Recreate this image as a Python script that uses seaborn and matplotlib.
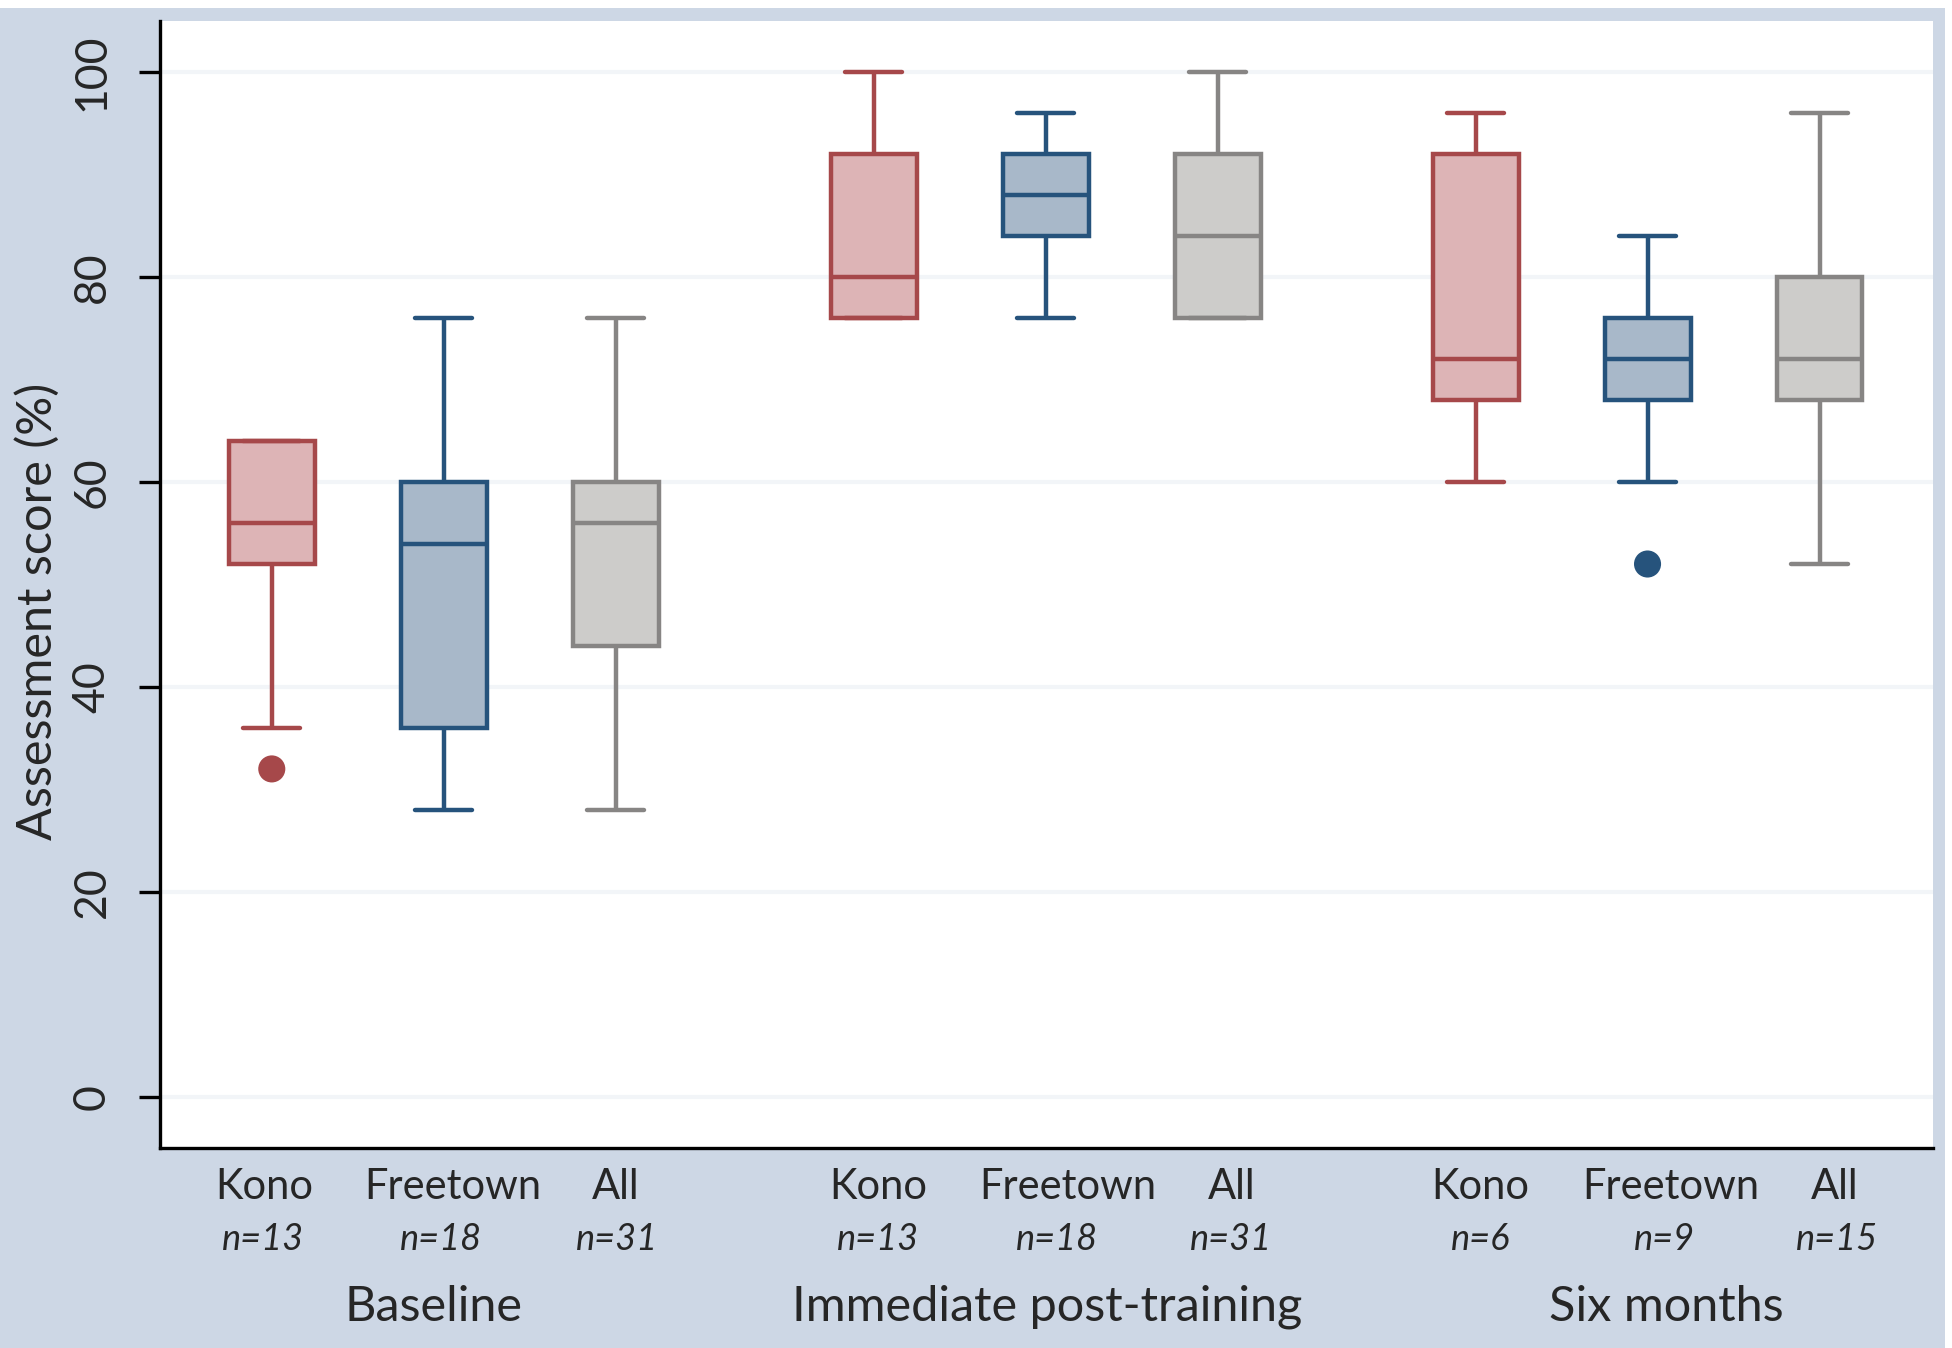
import matplotlib.pyplot as plt
import pandas as pd
import seaborn as sns
from matplotlib.patches import Rectangle

# Data
timepoints = ['Baseline', 'Immediate post-training', 'Six months']
sites = ['Kono', 'Freetown', 'All']
n_obs = [[13, 18, 31], [13, 18, 31], [6, 9, 15]]

# Five-number summaries (rows = timepoint, cols = site)
whisk_lo = [[36, 28, 28], [76, 76, 76], [60, 60, 52]]
q1 = [[52, 36, 44], [76, 84, 76], [68, 68, 68]]
median = [[56, 54, 56], [80, 88, 84], [72, 72, 72]]
q3 = [[64, 60, 60], [92, 92, 92], [92, 76, 80]]
whisk_hi = [[64, 76, 76], [100, 96, 100], [96, 84, 96]]

# Points outside the whiskers
outlier_time = ['Baseline', 'Six months']
outlier_site = ['Kono', 'Freetown']
outlier_score = [32, 52]

# Styling
fills = {'Kono': '#DDB4B6', 'Freetown': '#A8B8C9', 'All': '#CDCCCA'}
edges = {'Kono': '#A6484A', 'Freetown': '#26537C', 'All': '#878584'}
bg = '#CDD7E5'
group_step = 3.5
box_w = 0.5
# small horizontal nudges of the labels (data units), like the original layout
site_lab_shift = [[-0.045, 0.05, 0.0], [0.025, 0.13, 0.08], [0.03, 0.135, 0.09]]
n_lab_shift = [[-0.05, -0.015, 0.01], [0.025, 0.066, 0.08], [0.03, 0.1, 0.1]]
group_lab_shift = [-0.06, 0.007, 0.11]


def xpos(t, s):
    return timepoints.index(t) * group_step + sites.index(s)


# Long-form table: each box is described by its five numbers
rows = []
for i, t in enumerate(timepoints):
    for j, s in enumerate(sites):
        for v in (whisk_lo[i][j], q1[i][j], median[i][j], q3[i][j], whisk_hi[i][j]):
            rows.append({'time': t, 'site': s, 'pos': xpos(t, s), 'score': v})
df = pd.DataFrame(rows)

out = pd.DataFrame({'time': outlier_time, 'site': outlier_site, 'score': outlier_score})
out['pos'] = [xpos(t, s) for t, s in zip(out.time, out.site)]

sns.set_style('white')
plt.rcParams['font.family'] = ['Lato', 'DejaVu Sans']

fig = plt.figure(figsize=(19.52, 13.48), dpi=100, facecolor='white')
fig.patches.append(Rectangle((0, 0), 1945 / 1952, 1340 / 1348, transform=fig.transFigure,
                             facecolor=bg, edgecolor='none', zorder=-10))
ax = fig.add_axes([160 / 1952, 1 - 1148 / 1348, 1773 / 1952, 1127 / 1348])
ax.set_facecolor('white')

for s in sites:
    sub = df[df.site == s]
    sns.boxplot(data=sub, x='pos', y='score', native_scale=True,
                width=box_w / group_step, whis=(0, 100), showfliers=False,
                color=fills[s], linecolor=edges[s], linewidth=3.2,
                saturation=1, capwidths=0.33, ax=ax)

sns.scatterplot(data=out, x='pos', y='score', hue='site', palette=edges,
                s=380, linewidth=0, legend=False, ax=ax, zorder=5)

ax.set_xlim(-0.65, 9.66)
ax.set_ylim(-5, 105)
ax.set_yticks([0, 20, 40, 60, 80, 100])
ax.set_xticks([])
ax.set_xlabel('')
ax.set_ylabel('Assessment score (%)', fontsize=35)
ax.yaxis.set_label_coords(-0.069, 0.4765)
ax.yaxis.label.set_va('center')

ax.set_axisbelow(True)
ax.yaxis.grid(True, color='#F2F5F8', linewidth=3)
ax.tick_params(axis='y', length=15, width=2.4, color='black', pad=19,
               labelsize=32, left=True)
for lab in ax.get_yticklabels():
    lab.set_rotation(90)
    lab.set_va('center')

for side in ['top', 'right']:
    ax.spines[side].set_visible(False)
for side in ['left', 'bottom']:
    ax.spines[side].set_color('black')
    ax.spines[side].set_linewidth(2.4)

# Category labels under the axis
tr = ax.get_xaxis_transform()
for i, t in enumerate(timepoints):
    for j, s in enumerate(sites):
        x = xpos(t, s)
        ax.text(x + site_lab_shift[i][j], -0.035, s, transform=tr,
                ha='center', va='center', fontsize=30)
        ax.text(x + n_lab_shift[i][j], -0.081, f'n={n_obs[i][j]}', transform=tr,
                ha='center', va='center', fontsize=26, style='italic')
    ax.text(xpos(t, 'Freetown') + group_lab_shift[i], -0.141, t, transform=tr,
            ha='center', va='center', fontsize=35)

fig.savefig('out.png', dpi=100, facecolor=fig.get_facecolor())
